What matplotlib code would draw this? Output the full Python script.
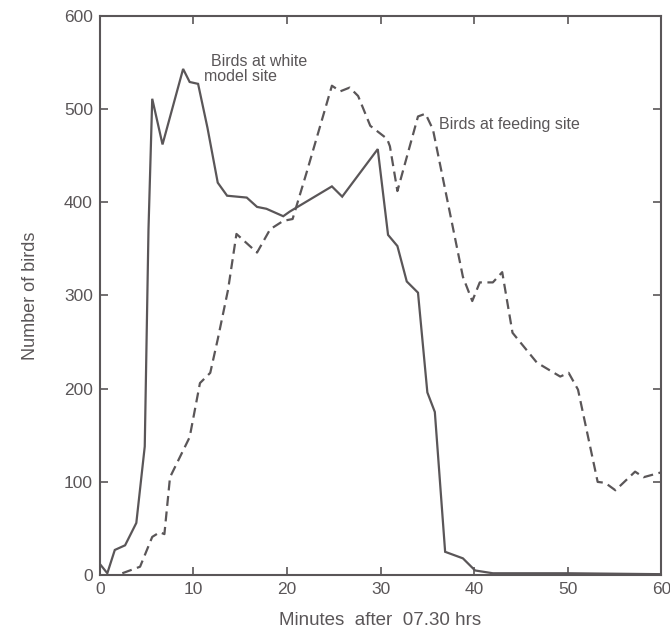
import matplotlib
matplotlib.use("Agg")
import matplotlib.pyplot as plt

# White model site (solid)
white_x = [0, 0.8, 1.6, 2.7, 3.9, 4.8, 5.2, 5.6, 6.7, 8.9, 9.6, 10.5, 11.5, 12.6, 13.6, 15.7, 16.8, 17.8, 19.6,
           20.3, 24.8, 25.9, 29.7, 30.8, 31.8, 32.8, 34.0, 35.0, 35.8, 36.9, 38.8, 40.1, 42, 50, 60]
white_y = [12, 2, 27, 32, 56, 138, 371, 511, 462, 543, 529, 527, 480, 421, 407, 405, 395, 393, 385,
           390, 417, 406, 457, 365, 353, 315, 303, 196, 175, 25, 18, 5, 2, 2, 1]

# Feeding site (dashed)
feed_x = [2.4, 4.3, 5.6, 6.4, 6.9, 7.5, 9.6, 10.7, 11.8, 12.6, 13.7, 14.6, 16.8, 18.2, 19.6, 20.6, 22.1,
          24.8, 25.7, 26.7, 27.6, 28.9, 30.7, 31.0, 31.8, 34.0, 34.8, 35.6, 38.8, 39.8, 40.6, 42.0, 43.0,
          44.1, 46.7, 49.2, 50.1, 51.1, 53.2, 54.0, 55.1, 57.2, 58.1, 59.9]
feed_y = [2, 9, 41, 46, 44, 105, 148, 206, 217, 253, 306, 366, 346, 371, 380, 382, 432,
          525, 519, 523, 514, 482, 468, 460, 412, 492, 495, 478, 320, 294, 314, 314, 325,
          260, 228, 213, 217, 199, 100, 99, 91, 111, 105, 110]

x_ticks = [0, 10, 20, 30, 40, 50, 60]
y_ticks = [0, 100, 200, 300, 400, 500, 600]

col = "#5a5658"
plt.rcParams['font.family'] = ['Liberation Sans', 'DejaVu Sans']

fig = plt.figure(figsize=(6.7, 6.32), dpi=100)
ax = fig.add_axes([0.149, 0.090, 0.838, 0.885])

ax.plot(white_x, white_y, color=col, lw=1.6, solid_joinstyle='miter')
ax.plot(feed_x, feed_y, color=col, lw=1.6, dashes=(4.5, 2.5))

ax.set_xlim(0, 60)
ax.set_ylim(0, 600)
ax.set_xticks(x_ticks)
ax.set_yticks(y_ticks)
ax.tick_params(direction='in', length=6, width=1.2, colors=col, labelsize=12.5,
               top=True, right=True, labelcolor=col, pad=5)
for s in ax.spines.values():
    s.set_color(col)
    s.set_linewidth(1.5)

ax.set_xlabel("Minutes  after  07.30 hrs", color=col, fontsize=13.5, labelpad=11)
ax.set_ylabel("Number of birds", color=col, fontsize=13, labelpad=18)

ax.text(11.9, 551, "Birds at white", color=col, fontsize=11.5, va='center', ha='left')
ax.text(11.1, 535, "model site", color=col, fontsize=11.5, va='center', ha='left')
ax.text(36.2, 483, "Birds at feeding site", color=col, fontsize=11.5, va='center', ha='left')

fig.savefig("out.png", dpi=100, facecolor='white')
